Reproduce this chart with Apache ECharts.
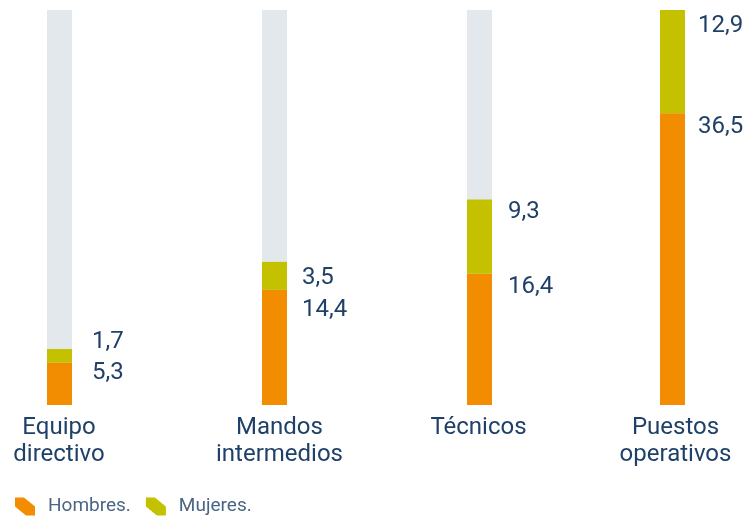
<!DOCTYPE html>
<html>
<head>
<meta charset="utf-8">
<script src="https://cdn.jsdelivr.net/npm/echarts@6/dist/echarts.min.js"></script>
<style>html,body{margin:0;padding:0;background:#fff}#c{width:752px;height:520px}</style>
</head>
<body>
<div id="c"></div>
<script>
// ---- data ----
const categories = ['Equipo\ndirectivo', 'Mandos\nintermedios', 'Técnicos', 'Puestos\noperativos'];
const hombres = [5.3, 14.4, 16.4, 36.5];
const mujeres = [1.7, 3.5, 9.3, 12.9];
const seriesNames = ['Hombres.', 'Mujeres.'];

// ---- layout / style ----
const barLefts = [47, 262, 467, 660];
const barW = 25;
const plotTop = 10, plotBottom = 405;
const catShift = [-1, 10, -2, 6];          // padding-left to nudge category labels
const labelX = [45, 40, 41, 38];           // label start relative to bar left
const labelYH = [10, 20, 13, 14];          // hombres label centre below segment top
const labelYM = [-7, 16, 12, 16];          // mujeres label centre below segment top
const cOrange = '#f28c00', cGreen = '#c4c200', cGray = '#e3e8ed';
const txt = '#1f4068';
const font = 'Roboto';

const yMax = Math.max(...hombres.map((h, i) => h + mujeres[i]));
const fmt = v => String(v).replace('.', ',');
const icon = 'path://M0,0 L9,0 L20,9 L20,18 L11,18 L0,9 Z';

const grid = [], xAxis = [], yAxis = [], series = [];
categories.forEach((cat, i) => {
  grid.push({left: barLefts[i], width: barW, top: plotTop, height: plotBottom - plotTop, containLabel: false});
  xAxis.push({
    type: 'category', gridIndex: i, data: [cat],
    axisLine: {show: false}, axisTick: {show: false},
    axisLabel: {
      show: true, interval: 0, margin: 9, color: txt, fontFamily: font, fontSize: 24,
      lineHeight: 27, align: 'center', padding: [0, 0, 0, catShift[i]]
    }
  });
  yAxis.push({type: 'value', gridIndex: i, min: 0, max: yMax, show: false, splitLine: {show: false}});
  const lbl = (dy) => ({
    show: true, position: [labelX[i], dy], align: 'left', verticalAlign: 'middle',
    color: txt, fontFamily: font, fontSize: 24, formatter: p => fmt(p.value)
  });
  series.push({
    name: seriesNames[0], type: 'bar', xAxisIndex: i, yAxisIndex: i, stack: 's' + i,
    barWidth: '100%', data: [hombres[i]], itemStyle: {color: cOrange},
    showBackground: true, backgroundStyle: {color: cGray},
    label: lbl(labelYH[i]), emphasis: {disabled: true}, silent: true, animation: false
  });
  series.push({
    name: seriesNames[1], type: 'bar', xAxisIndex: i, yAxisIndex: i, stack: 's' + i,
    barWidth: '100%', data: [mujeres[i]], itemStyle: {color: cGreen},
    label: lbl(labelYM[i]), emphasis: {disabled: true}, silent: true, animation: false
  });
});

const chart = echarts.init(document.getElementById('c'), null, {renderer: 'canvas'});
chart.setOption({
  animation: false,
  backgroundColor: '#fff',
  grid, xAxis, yAxis, series,
  color: [cOrange, cGreen],
  legend: {
    data: [{name: seriesNames[0], itemStyle: {color: cOrange}}, {name: seriesNames[1], itemStyle: {color: cGreen}}],
    left: 15, top: 497, padding: 0, itemWidth: 20, itemHeight: 18, itemGap: 15, icon: icon,
    selectedMode: false,
    textStyle: {color: '#4a6584', fontFamily: font, fontSize: 19, padding: [0, 0, 0, 8]}
  }
});
</script>
</body>
</html>
